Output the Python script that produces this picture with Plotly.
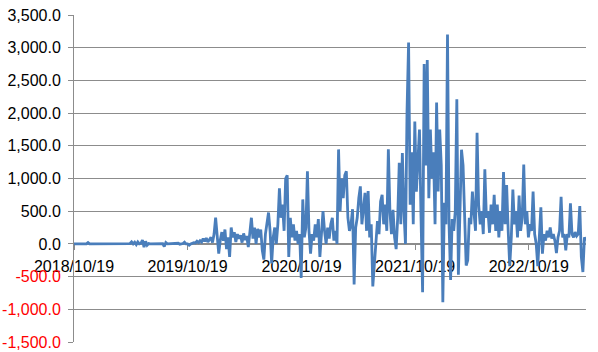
import plotly.graph_objects as go
import pandas as pd

start_date = "2018-10-19"
step_days = 5

values = [
    0, 0, 0, 0, 0, 0, 0, 0, 0, 20,
    0, 0, 0, 0, 0, 0, 0, 0, 0, 0,
    0, 0, 0, 0, 0, 0, 0, 0, 0, 0,
    0, 0, 0, 0, 0, 0, 5, 30, 0, 25,
    -10, 30, 0, 10, 60, -50, 40, -20, 5, 0,
    0, 0, 0, 0, 0, 10, 0, 5, -40, 20,
    0, 0, 0, 5, 0, 0, 0, 10, -5, 0,
    5, 25, 0, 0, -20, 0, 10, 20, 15, 40,
    20, 50, 30, 80, 40, 90, 30, 60, 100, 20,
    150, 400, 120, -150, 60, 180, 50, 220, -80, 100,
    -200, 250, 100, 180, 30, 150, 80, 130, 20, 160,
    60, 120, -50, 200, 400, 80, 250, 0, 230, 100,
    220, -100, -240, 150, 300, 480, 200, -300, 100, 250,
    0, 300, 850, 400, 600, 200, 1000, 1050, -200, 400,
    100, 300, 50, 200, 0, 150, -520, 680, 100, 250,
    1110, 200, -150, 150, 50, 300, 100, 380, -200, 100,
    500, 200, 0, 250, 80, 300, 400, 50, 200, 0,
    1445, 500, 1000, 700, 1050, 1110, 400, 200, 300, 530,
    -620, 250, 400, 700, 880, 300, 500, 780, 200, 810,
    100, 300, -650, -300, 100, 350, 150, 650, 750, 300,
    600, 200, 1445, 500, 150, 520, 100, -80, 400, 1240,
    300, 1390, 500, 0, 2030, 3080, 600, 1400, 300, 1870,
    800, 1400, 1750, 400, -740, 2750, 1200, 2810, 700, 1750,
    1000, 1400, 300, 2160, 800, 1750, 1200, -890, 630, 300,
    3200, 300, -550, 380, 200, 500, 2210, -470, 600, 1440,
    1200, 300, -330, -250, 400, 300, 800, 490, 200, 1700,
    600, 300, 500, 150, 1140, 400, 500, 170, 600, 300,
    750, 200, 600, 100, 500, 200, 1100, 300, 900, 200,
    -340, 100, 830, 300, 500, 100, 740, 200, 400, 1215,
    300, 500, 100, 300, 200, 800, 150, 0, -340, 100,
    560, -150, 150, 50, 200, 100, 250, 80, 150, 50,
    -140, 100, 200, 720, 100, 150, -100, 150, 100, 620,
    150, 100, 180, 120, 150, 580, -200, -430, 100, 50,
]

tick_dates = ["2018-10-19", "2019-10-19", "2020-10-19", "2021-10-19", "2022-10-19"]
tick_labels = ["2018/10/19", "2019/10/19", "2020/10/19", "2021/10/19", "2022/10/19"]
y_ticks = [-1500, -1000, -500, 0, 500, 1000, 1500, 2000, 2500, 3000, 3500]

dates = pd.date_range(start_date, periods=len(values), freq=f"{step_days}D")

def fmt(v):
    s = f"{v:,.1f}"
    if v < 0:
        return f"<span style='color:#FF0000'>{s}</span>"
    return s

fig = go.Figure()
fig.add_trace(go.Scatter(
    x=dates, y=values, mode="lines",
    line=dict(color="#4A7EBB", width=2.8),
    hoverinfo="skip", showlegend=False,
))

fig.update_layout(
    width=598, height=352,
    margin=dict(l=74, r=12, t=15, b=10),
    paper_bgcolor="white", plot_bgcolor="white",
    font=dict(family="Liberation Sans, Arial, sans-serif", size=16, color="#000000"),
    showlegend=False,
)

fig.update_yaxes(
    range=[-1500, 3500],
    tickvals=y_ticks,
    ticktext=[fmt(v) for v in y_ticks],
    showgrid=True, gridcolor="#8C8C8C", gridwidth=1,
    zeroline=False,
    showline=True, linecolor="#8C8C8C", linewidth=1,
    ticks="outside", ticklen=5, tickcolor="#8C8C8C",
    ticklabelstandoff=4,
    automargin=False,
)

fig.update_xaxes(
    type="date",
    range=[dates[0], dates[-1]],
    tickvals=pd.to_datetime(tick_dates),
    ticktext=tick_labels,
    showgrid=False, zeroline=False,
    showline=True, linecolor="#8C8C8C", linewidth=1,
    ticks="outside", ticklen=5, tickcolor="#8C8C8C",
    ticklabelstandoff=3,
    anchor="free", position=0.3,
    layer="below traces",
    automargin=False,
)

fig.write_html("out.html")
